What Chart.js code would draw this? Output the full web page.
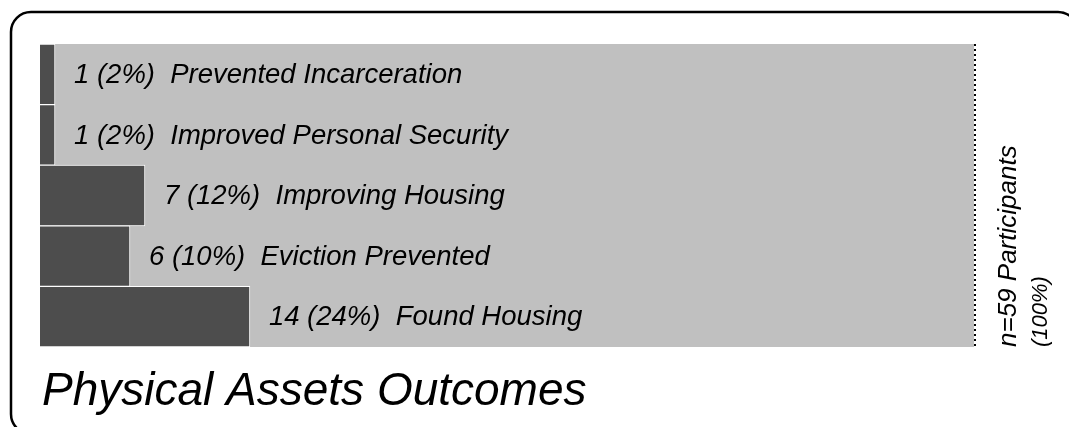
<!DOCTYPE html>
<html>
<head>
<meta charset="utf-8">
<script src="https://cdn.jsdelivr.net/npm/chart.js@4"></script>
<style>
  body { margin: 0; background: #ffffff; }
  #wrap { width: 1069px; height: 427px; position: relative; }
</style>
</head>
<body>
<div id="wrap"><canvas id="outcomesChart"></canvas></div>
<script>
let outcomes = ['Prevented Incarceration', 'Improved Personal Security', 'Improving Housing', 'Eviction Prevented', 'Found Housing'];
let counts = [1, 1, 7, 6, 14];
let percents = [2, 2, 12, 10, 24];
let totalLabel = ['n=59 Participants', '(100%)'];
let chartTitle = 'Physical Assets Outcomes';

let fontFam = '"Liberation Sans", Arial, sans-serif';

// fondo gris, etiquetas, linea punteada y marco
let decorPlugin = {
  id: 'decor',
  beforeDatasetsDraw(chart) {
    let ctx = chart.ctx;
    let a = chart.chartArea;
    ctx.save();
    ctx.fillStyle = '#c0c0c0';
    ctx.fillRect(a.left, a.top, a.right - a.left, a.bottom - a.top);
    ctx.restore();
  },
  afterDatasetsDraw(chart) {
    let ctx = chart.ctx;
    let a = chart.chartArea;
    let meta = chart.getDatasetMeta(0);

    ctx.save();
    ctx.fillStyle = '#000000';
    ctx.font = 'italic 27.5px ' + fontFam;
    ctx.textBaseline = 'middle';
    ctx.textAlign = 'left';
    meta.data.forEach((bar, i) => {
      let txt = counts[i] + ' (' + percents[i] + '%)  ' + outcomes[i];
      ctx.fillText(txt, bar.x + 19, bar.y + 1);
    });

    // linea punteada del total
    ctx.strokeStyle = '#000000';
    ctx.lineWidth = 2;
    ctx.setLineDash([2, 3]);
    ctx.beginPath();
    ctx.moveTo(a.right + 1, a.top);
    ctx.lineTo(a.right + 1, a.bottom + 1);
    ctx.stroke();
    ctx.setLineDash([]);

    // texto vertical
    ctx.save();
    ctx.translate(a.right + 42, a.bottom);
    ctx.rotate(-Math.PI / 2);
    ctx.textBaseline = 'alphabetic';
    ctx.font = 'italic 26px ' + fontFam;
    ctx.fillText(totalLabel[0], 0, 0);
    ctx.font = 'italic 22px ' + fontFam;
    ctx.fillText(totalLabel[1], 0, 31);
    ctx.restore();

    // titulo
    ctx.font = 'italic 46px ' + fontFam;
    ctx.textBaseline = 'alphabetic';
    ctx.fillText(chartTitle, 42, 405);

    // marco redondeado
    ctx.lineWidth = 2.5;
    ctx.strokeStyle = '#000000';
    ctx.beginPath();
    ctx.roundRect(11, 12, 1067, 422, 20);
    ctx.stroke();
    ctx.restore();
  }
};

let chart = new Chart(document.getElementById('outcomesChart').getContext('2d'), {
  type: 'bar',
  data: {
    labels: outcomes,
    datasets: [{
      data: counts,
      backgroundColor: '#4d4d4d',
      borderColor: '#ffffff',
      borderWidth: 1,
      barPercentage: 1,
      categoryPercentage: 1
    }]
  },
  options: {
    indexAxis: 'y',
    responsive: true,
    maintainAspectRatio: false,
    animation: false,
    layout: {
      padding: { left: 40, top: 44, right: 95, bottom: 80 }
    },
    plugins: {
      legend: { display: false },
      tooltip: { enabled: false },
      title: { display: false }
    },
    scales: {
      x: { display: false, min: 0, max: 62.3 },
      y: { display: false }
    }
  },
  plugins: [decorPlugin]
});
</script>
</body>
</html>
